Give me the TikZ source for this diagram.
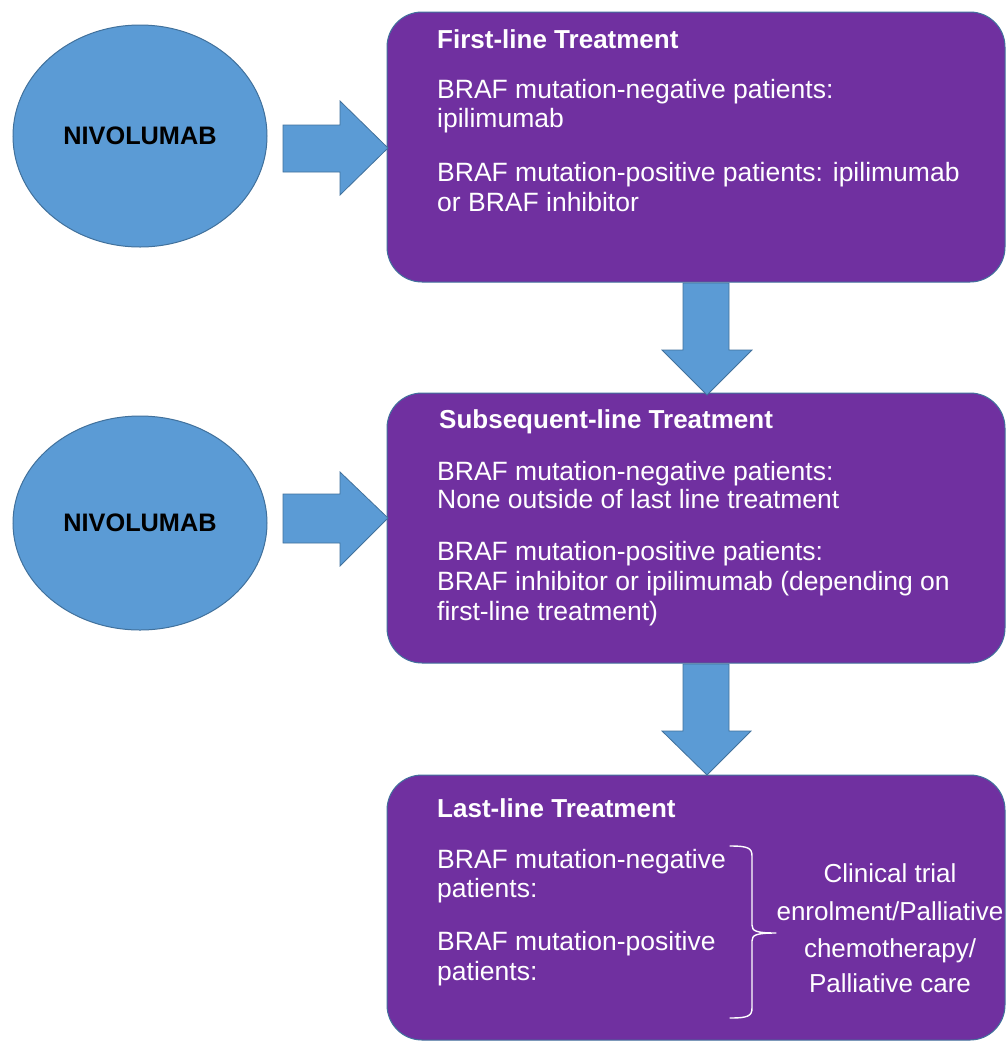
\documentclass[tikz,border=0pt]{standalone}
\usepackage{fontspec}
\setmainfont{Liberation Sans}
\usetikzlibrary{shapes.geometric}
\definecolor{boxpurple}{HTML}{7030A0}
\definecolor{ovalblue}{HTML}{5B9BD5}
\definecolor{edgeblue}{HTML}{41719C}
\begin{document}
\begin{tikzpicture}[x=1pt, y=-1pt,
  stage/.style={draw=edgeblue, line width=1pt, fill=boxpurple, rounded corners=35pt, minimum width=618pt, inner sep=0pt},
  drug/.style={ellipse, draw=edgeblue, line width=1pt, fill=ovalblue, minimum width=254pt, inner sep=0pt, text=black, font=\fontsize{25.3}{30}\selectfont\bfseries},
  blockarrow/.style={draw=edgeblue, line width=0.8pt, fill=ovalblue, line join=miter},
  ttl/.style={anchor=base west, inner sep=0pt, text=white, font=\fontsize{26}{30}\selectfont\bfseries},
  txt/.style={anchor=base west, inner sep=0pt, text=white, font=\fontsize{26.5}{30}\selectfont},
  ctxt/.style={anchor=base, inner sep=0pt, text=white, font=\fontsize{26}{30}\selectfont},
  bracket/.style={draw=white, line width=1.4pt, line cap=round, line join=round}]
  \path[use as bounding box, fill=white] (0,0) rectangle (1007,1042);

  % stage boxes
  \node[stage, minimum height=270pt] (first) at (696,147) {};
  \node[stage, minimum height=270pt] (subs) at (696,528) {};
  \node[stage, minimum height=265pt] (last) at (696,907.5) {};

  % drug ellipses
  \node[drug, minimum height=222pt] (nivo1) at (140,136) {NIVOLUMAB};
  \node[drug, minimum height=214pt] (nivo2) at (140,523) {NIVOLUMAB};

  % block arrows
  \coordinate (tip1) at (388,148);
  \coordinate (tip2) at (388,518);
  \coordinate (tip3) at (707,395);
  \coordinate (tip4) at (707,775);
  \draw[blockarrow] (283,125) -- (340,125) -- (340,101) -- (tip1) -- (340,195) -- (340,172) -- (283,172) -- cycle;
  \draw[blockarrow] (283,494) -- (340,494) -- (340,472) -- (tip2) -- (340,566) -- (340,543) -- (283,543) -- cycle;
  \draw[blockarrow] (683,283) -- (729,283) -- (729,350) -- (752,350) -- (tip3) -- (662,350) -- (683,350) -- cycle;
  \draw[blockarrow] (683,664) -- (729,664) -- (729,731) -- (751,731) -- (tip4) -- (662,731) -- (683,731) -- cycle;

  % first-line text
  \node[ttl] (t1) at (437,48) {First-line Treatment};
  \node[txt] (f1) at (437,98) {BRAF mutation-negative patients:};
  \node[txt] (f2) at (437,127) {ipilimumab};
  \node[txt] (f3) at (437,181) {BRAF mutation-positive patients: ipilimumab};
  \node[txt] (f4) at (437,211) {or BRAF inhibitor};

  % subsequent-line text
  \node[ttl] (t2) at (439,428) {Subsequent-line Treatment};
  \node[txt] (s1) at (437,480) {BRAF mutation-negative patients:};
  \node[txt] (s2) at (437,508) {None outside of last line treatment};
  \node[txt] (s3) at (437,560) {BRAF mutation-positive patients:};
  \node[txt] (s4) at (437,590) {BRAF inhibitor or ipilimumab (depending on};
  \node[txt] (s5) at (437,620) {first-line treatment)};

  % last-line text
  \node[ttl] (t3) at (437,817) {Last-line Treatment};
  \node[txt] (l1) at (437,868) {BRAF mutation-negative};
  \node[txt] (l2) at (437,897) {patients:};
  \node[txt] (l3) at (437,950) {BRAF mutation-positive};
  \node[txt] (l4) at (437,980) {patients:};
  \node[ctxt] (r1) at (890,882) {Clinical trial};
  \node[ctxt] (r2) at (890,920) {enrolment/Palliative};
  \node[ctxt] (r3) at (890,957) {chemotherapy/};
  \node[ctxt] (r4) at (890,992) {Palliative care};

  % brace
  \draw[bracket] (730,846) .. controls (748,846) and (752,848) .. (752,856) -- (752,925)
     .. controls (752,931) and (756,933) .. (776,933)
     .. controls (756,933) and (752,935) .. (752,941) -- (752,1008)
     .. controls (752,1016) and (748,1018) .. (730,1018);
\end{tikzpicture}
\end{document}
